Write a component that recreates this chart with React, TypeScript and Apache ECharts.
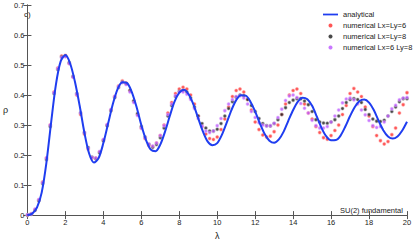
import React, { useEffect, useRef } from "react";
import * as echarts from "echarts";

const lambdaAna = [0,0.25,0.5,0.75,1,1.25,1.5,1.75,2,2.25,2.5,2.75,3,3.25,3.5,3.75,4,4.25,4.5,4.75,5,5.25,5.5,5.75,6,6.25,6.5,6.75,7,7.25,7.5,7.75,8,8.25,8.5,8.75,9,9.25,9.5,9.75,10,10.25,10.5,10.75,11,11.25,11.5,11.75,12,12.25,12.5,12.75,13,13.25,13.5,13.75,14,14.25,14.5,14.75,15,15.25,15.5,15.75,16,16.25,16.5,16.75,17,17.25,17.5,17.75,18,18.25,18.5,18.75,19,19.25,19.5,19.75,20];
const analytical = [0,0.005,0.025,0.075,0.175,0.31,0.435,0.512,0.533,0.505,0.445,0.365,0.275,0.205,0.175,0.19,0.24,0.305,0.37,0.42,0.443,0.44,0.41,0.36,0.3,0.25,0.218,0.213,0.235,0.278,0.33,0.378,0.408,0.418,0.402,0.368,0.322,0.278,0.245,0.233,0.24,0.268,0.308,0.35,0.383,0.399,0.398,0.378,0.345,0.305,0.27,0.248,0.241,0.252,0.278,0.315,0.35,0.378,0.391,0.386,0.364,0.328,0.29,0.262,0.249,0.25,0.265,0.295,0.33,0.36,0.38,0.385,0.375,0.35,0.315,0.283,0.262,0.255,0.262,0.282,0.311];

const lambdaNum = [0,0.2,0.4,0.6,0.8,1,1.2,1.4,1.6,1.8,2,2.2,2.4,2.6,2.8,3,3.2,3.4,3.6,3.8,4,4.2,4.4,4.6,4.8,5,5.2,5.4,5.6,5.8,6,6.2,6.4,6.6,6.8,7,7.2,7.4,7.6,7.8,8,8.2,8.4,8.6,8.8,9,9.2,9.4,9.6,9.8,10,10.2,10.4,10.6,10.8,11,11.2,11.4,11.6,11.8,12,12.2,12.4,12.6,12.8,13,13.2,13.4,13.6,13.8,14,14.2,14.4,14.6,14.8,15,15.2,15.4,15.6,15.8,16,16.2,16.4,16.6,16.8,17,17.2,17.4,17.6,17.8,18,18.2,18.4,18.6,18.8,19,19.2,19.4,19.6,19.8,20];

const numL6 = [0,0.004,0.018,0.05,0.11,0.19,0.3,0.41,0.49,0.53,0.532,0.505,0.46,0.4,0.335,0.27,0.22,0.19,0.19,0.21,0.25,0.3,0.35,0.395,0.43,0.447,0.44,0.415,0.38,0.335,0.29,0.255,0.232,0.228,0.24,0.265,0.3,0.34,0.375,0.405,0.42,0.426,0.42,0.4,0.37,0.33,0.295,0.27,0.255,0.252,0.26,0.285,0.32,0.36,0.395,0.415,0.42,0.41,0.385,0.35,0.31,0.285,0.267,0.26,0.263,0.278,0.3,0.335,0.37,0.4,0.415,0.42,0.405,0.37,0.34,0.32,0.295,0.275,0.258,0.253,0.265,0.282,0.3,0.335,0.365,0.405,0.422,0.41,0.395,0.36,0.33,0.295,0.265,0.248,0.237,0.245,0.268,0.29,0.34,0.368,0.408];

const numL8 = [0,0.003,0.016,0.048,0.105,0.185,0.295,0.405,0.485,0.527,0.53,0.508,0.462,0.405,0.34,0.275,0.225,0.193,0.188,0.208,0.248,0.298,0.348,0.392,0.425,0.443,0.438,0.415,0.38,0.338,0.295,0.26,0.236,0.226,0.235,0.258,0.29,0.33,0.365,0.395,0.412,0.415,0.41,0.39,0.36,0.33,0.305,0.29,0.28,0.28,0.286,0.305,0.33,0.355,0.378,0.393,0.4,0.398,0.385,0.365,0.345,0.322,0.305,0.298,0.297,0.305,0.318,0.335,0.358,0.375,0.383,0.388,0.388,0.38,0.368,0.345,0.318,0.31,0.307,0.306,0.31,0.318,0.33,0.355,0.375,0.385,0.388,0.385,0.375,0.352,0.335,0.32,0.313,0.312,0.316,0.33,0.345,0.36,0.378,0.388,0.388];

const numL6x8 = [0.001,0.004,0.02,0.052,0.108,0.19,0.3,0.408,0.488,0.525,0.528,0.505,0.46,0.403,0.34,0.275,0.222,0.192,0.19,0.212,0.252,0.302,0.352,0.395,0.428,0.442,0.435,0.41,0.375,0.332,0.29,0.258,0.237,0.23,0.24,0.265,0.298,0.335,0.37,0.398,0.41,0.41,0.403,0.385,0.355,0.322,0.296,0.28,0.275,0.28,0.298,0.322,0.348,0.37,0.385,0.395,0.398,0.39,0.37,0.345,0.325,0.308,0.3,0.297,0.298,0.306,0.325,0.353,0.382,0.397,0.4,0.392,0.372,0.356,0.34,0.316,0.298,0.29,0.29,0.295,0.31,0.33,0.35,0.374,0.387,0.39,0.384,0.37,0.35,0.334,0.315,0.298,0.292,0.295,0.31,0.33,0.354,0.366,0.384,0.39,0.392];

const xTicks = { min: 0, max: 20, interval: 2 };
const yTicks = { min: 0, max: 0.7, interval: 0.1 };
const seriesNames = ["analytical", "numerical Lx=Ly=6", "numerical Lx=Ly=8", "numerical Lx=6 Ly=8"];

const FONT = "Liberation Sans, Arial, sans-serif";
const axisColor = "#555";
const colors = {
  line: "#1f3df0",
  red: "#ff2b2b",
  redHalo: "rgba(255,140,140,0.5)",
  black: "#1a1a1a",
  blackHalo: "rgba(150,150,150,0.55)",
  purple: "#bb55ff",
  purpleHalo: "rgba(220,170,255,0.55)",
};

export default function App() {
  const ref = useRef<HTMLDivElement>(null);
  useEffect(() => {
    if (!ref.current) return;
    const chart = echarts.init(ref.current, null, { renderer: "svg" });
    const pair = (xs: number[], ys: number[]) => xs.map((x, i) => [x, ys[i]]);
    const commonX = {
      type: "value",
      ...xTicks,
      axisLine: { show: true, lineStyle: { color: axisColor, width: 1 } },
      axisTick: { show: true, inside: true, length: 4, lineStyle: { color: axisColor } },
      splitLine: { show: false },
    };
    const commonY = {
      type: "value",
      ...yTicks,
      axisLine: { show: true, lineStyle: { color: axisColor, width: 1 } },
      axisTick: { show: true, inside: true, length: 4, lineStyle: { color: axisColor } },
      splitLine: { show: false },
    };
    const scatterStyle = (color: string, halo: string) => ({
      type: "scatter",
      symbol: "circle",
      symbolSize: 3,
      itemStyle: { color, borderColor: halo, borderWidth: 1.2 },
      z: 2,
    });
    chart.setOption({
      animation: false,
      textStyle: { fontFamily: FONT },
      grid: { left: 20, right: 8, top: 5, bottom: 20 },
      legend: {
        orient: "vertical",
        left: 323,
        top: 10,
        padding: 0,
        itemGap: 2,
        itemWidth: 15,
        itemHeight: 4,
        textStyle: { fontSize: 7.5, color: "#222", fontFamily: FONT, lineHeight: 9 },
        data: [
          { name: seriesNames[0], icon: "path://M0 0H17V2H0Z", itemStyle: { color: colors.line } },
          { name: seriesNames[1], icon: "circle", itemStyle: { color: colors.red, borderWidth: 0 } },
          { name: seriesNames[2], icon: "circle", itemStyle: { color: colors.black, borderWidth: 0 } },
          { name: seriesNames[3], icon: "circle", itemStyle: { color: colors.purple, borderWidth: 0 } },
        ],
      },
      xAxis: [
        {
          ...commonX,
          position: "bottom",
          name: "λ",
          nameLocation: "middle",
          nameGap: 13,
          nameTextStyle: { fontSize: 9, color: "#222" },
          axisLabel: { fontSize: 7.5, color: "#222", margin: 3 },
        },
        { ...commonX, position: "top", axisLabel: { show: false } },
      ],
      yAxis: [
        {
          ...commonY,
          position: "left",
          name: "ρ",
          nameLocation: "middle",
          nameGap: 13,
          nameRotate: 0,
          nameTextStyle: { fontSize: 9, color: "#222" },
          axisLabel: { fontSize: 7.5, color: "#222", margin: 3 },
        },
        { ...commonY, position: "right", axisLabel: { show: false } },
      ],
      graphic: [
        { type: "text", left: 24, top: 10, style: { text: "c)", fontSize: 8, fill: "#222", fontFamily: FONT } },
        { type: "text", left: 340, top: 206, style: { text: "SU(2) fundamental", fontSize: 7.5, fill: "#222", fontFamily: FONT } },
      ],
      series: [
        {
          name: seriesNames[0],
          type: "line",
          data: pair(lambdaAna, analytical),
          smooth: 0.3,
          symbol: "none",
          lineStyle: { color: colors.line, width: 2 },
          itemStyle: { color: colors.line },
          z: 5,
        },
        { name: seriesNames[1], data: pair(lambdaNum, numL6), ...scatterStyle(colors.red, colors.redHalo) },
        { name: seriesNames[2], data: pair(lambdaNum, numL8), ...scatterStyle(colors.black, colors.blackHalo) },
        { name: seriesNames[3], data: pair(lambdaNum, numL6x8), ...scatterStyle(colors.purple, colors.purpleHalo) },
      ],
    });
    return () => chart.dispose();
  }, []);
  return (
    <div
      ref={ref}
      style={{ position: "absolute", left: 0, top: 0, width: 415, height: 245, background: "#fff" }}
    />
  );
}
